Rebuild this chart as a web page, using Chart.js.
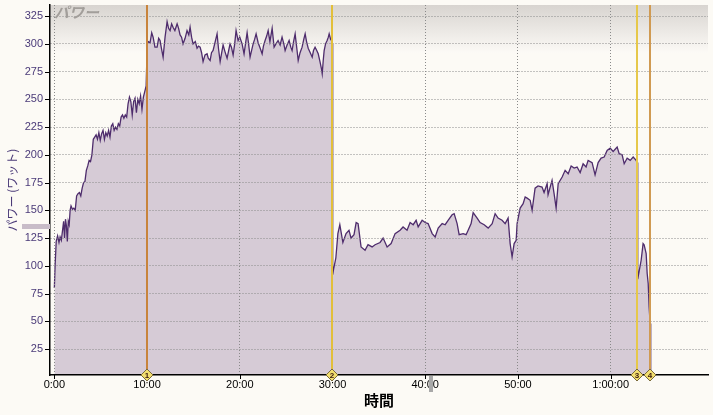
<!DOCTYPE html>
<html><head><meta charset="utf-8">
<script src="https://cdn.jsdelivr.net/npm/chart.js@4/dist/chart.umd.min.js"></script>
<style>html,body{margin:0;padding:0;background:#fcfaf5;}canvas{display:block;}</style>
</head><body>
<canvas id="c" width="713" height="415"></canvas>
<script>
// time in minutes
const timeMin = [
0.00,0.08,0.20,0.35,0.50,0.62,0.75,0.90,1.00,1.10,1.20,1.30,1.40,1.50,1.60,1.70,1.80,1.95,2.10,2.25,
2.40,2.55,2.70,2.85,3.00,3.15,3.30,3.45,3.60,3.75,3.90,4.05,4.20,4.35,4.50,4.65,4.80,4.95,5.10,5.25,
5.40,5.55,5.70,5.85,6.00,6.15,6.30,6.45,6.60,6.75,6.90,7.05,7.20,7.35,7.50,7.65,7.80,7.95,8.10,8.25,
8.40,8.55,8.70,8.85,9.00,9.15,9.30,9.45,9.60,9.75,9.90,9.95,
10.02,10.15,10.32,10.50,10.65,10.85,11.08,11.25,11.40,11.55,11.73,11.94,12.16,12.32,12.48,12.65,12.80,13.00,
13.24,13.40,13.56,13.72,13.88,14.10,14.31,14.50,14.64,14.80,14.96,15.20,15.39,15.55,15.72,15.88,16.04,16.25,
16.47,16.60,16.80,16.95,17.12,17.35,17.55,17.70,17.88,18.05,18.20,18.40,18.63,18.80,18.95,19.10,19.28,19.45,
19.60,19.82,20.00,20.25,20.46,20.65,20.79,20.95,21.11,21.30,21.44,21.60,21.76,21.98,22.20,22.41,22.55,22.73,
22.90,23.06,23.25,23.49,23.70,23.90,24.13,24.35,24.56,24.75,24.89,25.10,25.32,25.50,25.64,25.80,25.97,26.15,
26.30,26.50,26.72,26.90,27.05,27.20,27.38,27.60,27.81,27.95,28.12,28.30,28.46,28.65,28.80,28.89,29.00,29.10,
29.25,29.42,29.55,29.64,29.80,29.90,29.95,
30.02,30.14,30.36,30.58,30.79,31.12,31.46,31.78,32.00,32.32,32.55,32.76,33.08,33.51,33.83,34.27,34.59,35.13,
35.46,35.89,36.32,36.75,37.29,37.61,38.04,38.37,38.70,39.02,39.24,39.67,39.99,40.31,40.75,41.07,41.40,41.83,
42.15,42.47,42.90,43.12,43.44,43.66,44.09,44.41,44.63,44.95,45.17,45.60,45.92,46.36,46.79,47.22,47.54,47.86,
48.29,48.62,48.94,49.16,49.37,49.59,49.81,49.91,50.24,50.56,50.78,50.99,51.32,51.53,51.85,52.17,52.60,52.82,
53.15,53.25,53.68,53.90,54.12,54.34,54.77,55.09,55.42,55.74,56.06,56.38,56.71,57.03,57.35,57.57,58.00,58.32,
58.65,58.97,59.30,59.62,59.95,60.27,60.70,60.92,61.24,61.46,61.78,62.11,62.43,62.75,62.86,
62.92,63.07,63.29,63.50,63.61,63.83,63.94,64.05,64.15,64.26,64.32
];
// power in watts
const powerW = [
80,100,122,127,121,126,123,133,140,125,142,136,122,140,137,150,154,151,152,150,
163,165,166,163,170,175,176,186,190,195,194,200,214,216,218,214,220,213,219,222,
214,220,217,222,216,226,228,222,225,223,228,226,234,236,233,236,234,246,252,248,
236,248,251,238,250,246,253,241,252,257,262,262,
300,302,301,310,306,297,297,305,303,296,288,306,320,314,312,318,315,312,
318,314,308,306,300,305,312,308,315,306,300,302,296,298,297,292,284,290,
291,287,285,292,294,302,309,296,284,292,299,293,287,294,300,297,290,300,
312,303,306,300,291,302,310,300,288,295,300,304,309,301,296,291,298,303,
307,312,302,314,297,300,303,299,306,300,294,299,303,297,294,302,309,296,
285,292,297,304,309,302,296,292,288,294,297,294,291,284,278,273,285,294,
300,303,306,309,304,303,300,
92,98,107,129,137,121,129,132,125,128,139,138,117,114,119,117,119,121,
125,117,120,129,132,135,132,139,137,141,135,141,139,138,129,126,134,138,
137,141,146,147,138,128,129,128,132,138,148,143,139,137,134,138,147,143,
141,138,143,120,108,120,123,138,152,156,162,161,159,150,170,172,171,166,
174,164,177,165,152,174,180,186,183,190,188,189,184,192,189,195,193,182,
193,197,198,204,206,203,207,201,200,192,197,195,198,195,193,
88,95,105,120,119,111,93,84,63,48,5
];
const timeTicks = [0,10,20,30,40,50,60];
const timeTickLabels = ['0:00','10:00','20:00','30:00','40:00','50:00','1:00:00'];
const powerTicks = [25,50,75,100,125,150,175,200,225,250,275,300,325];
const lapTimes = [10.0, 29.92, 62.86, 64.26];
const lapLabels = ['1','2','3','4'];
const lapColors = ['#c8843c','#e2bf3a','#e6c84a','#d09a52'];

const decor = {
  id: 'decor',
  beforeDraw(chart) {
    const {ctx, chartArea: a, width, height} = chart;
    ctx.save();
    ctx.fillStyle = '#fcfaf5';
    ctx.fillRect(0, 0, width, height);
    const g = ctx.createLinearGradient(0, a.top, 0, a.top + 48);
    g.addColorStop(0, '#d8d4d0');
    g.addColorStop(1, '#fcfaf6');
    ctx.fillStyle = g;
    ctx.fillRect(a.left, a.top, a.right - a.left, 48);
    ctx.restore();
  },
  afterDraw(chart) {
    const {ctx, chartArea: a} = chart;
    const xs = chart.scales.x, ys = chart.scales.y;
    ctx.save();
    // tick marks
    ctx.strokeStyle = '#000';
    ctx.lineWidth = 1;
    ctx.beginPath();
    powerTicks.forEach(v => {
      const y = Math.round(ys.getPixelForValue(v)) + 0.5;
      ctx.moveTo(a.left - 5, y); ctx.lineTo(a.left, y);
    });
    timeTicks.forEach(v => {
      const x = Math.round(xs.getPixelForValue(v)) + 0.5;
      ctx.moveTo(x, a.bottom); ctx.lineTo(x, a.bottom + 4);
    });
    ctx.stroke();
    // chart title in plot
    ctx.fillStyle = '#a29e9a';
    ctx.font = 'italic bold 15px "Noto Sans CJK JP"';
    ctx.textBaseline = 'middle';
    ctx.textAlign = 'left';
    ctx.fillText('パワー', a.left + 4, a.top + 7);
    // series swatch next to y title
    ctx.fillStyle = '#c8bcc8';
    ctx.fillRect(22, 224, a.left - 22, 5);
    // small grey marker below axis
    const gx = xs.getPixelForValue(40.4);
    ctx.fillStyle = '#a8a8a8';
    ctx.fillRect(Math.round(gx), a.bottom + 1, 4, 16);
    // lap lines
    lapTimes.forEach((t, i) => {
      const x = Math.round(xs.getPixelForValue(t));
      ctx.strokeStyle = lapColors[i];
      ctx.lineWidth = 2;
      ctx.beginPath();
      ctx.moveTo(x, a.top); ctx.lineTo(x, a.bottom);
      ctx.stroke();
    });
    lapTimes.forEach((t, i) => {
      const x = Math.round(xs.getPixelForValue(t));
      const y = a.bottom;
      ctx.beginPath();
      ctx.moveTo(x, y - 6); ctx.lineTo(x + 6, y); ctx.lineTo(x, y + 6); ctx.lineTo(x - 6, y); ctx.closePath();
      ctx.fillStyle = '#f2de6e';
      ctx.fill();
      ctx.strokeStyle = '#7a6a3a';
      ctx.lineWidth = 1;
      ctx.stroke();
      ctx.fillStyle = '#3a1a10';
      ctx.font = 'bold 8px "Liberation Sans"';
      ctx.textAlign = 'center';
      ctx.textBaseline = 'middle';
      ctx.fillText(lapLabels[i], x, y + 0.5);
    });
    ctx.restore();
  }
};

new Chart(document.getElementById('c'), {
  type: 'line',
  data: {
    datasets: [{
      data: timeMin.map((t, i) => ({x: t, y: powerW[i]})),
      borderColor: '#4e2c6c',
      borderWidth: 1.3,
      backgroundColor: '#d6cbd6',
      fill: 'origin',
      pointRadius: 0,
      tension: 0
    }]
  },
  options: {
    responsive: false,
    devicePixelRatio: 1,
    animation: false,
    events: [],
    layout: {padding: {top: 5, right: 5, left: 0, bottom: 0}},
    plugins: {legend: {display: false}, tooltip: {enabled: false}},
    scales: {
      x: {
        type: 'linear', min: -0.47, max: 70.5,
        afterBuildTicks: s => { s.ticks = timeTicks.map(v => ({value: v})); },
        afterFit: s => { s.height = 40; s.paddingLeft = 0; s.paddingRight = 0; },
        ticks: {
          padding: 3, color: '#000', maxRotation: 0, autoSkip: false,
          font: {family: 'Liberation Sans', size: 11},
          callback: (v, i) => timeTickLabels[i]
        },
        grid: {color: '#8a8a8a', lineWidth: 1, drawTicks: false, z: 1},
        border: {display: true, color: '#000', width: 1.5, dash: [1, 2], z: 2},
        title: {display: true, text: '時間', color: '#000',
          font: {family: 'Noto Sans CJK JP', size: 15, weight: 'bold'},
          padding: {top: 0, bottom: 6}}
      },
      y: {
        min: 1.6, max: 335,
        afterBuildTicks: s => { s.ticks = powerTicks.map(v => ({value: v})); },
        afterFit: s => { s.width = 50; s.paddingTop = 0; s.paddingBottom = 0; },
        ticks: {
          padding: 7, color: '#4a3a78', autoSkip: false,
          font: {family: 'Liberation Sans', size: 11},
          callback: (v, i) => String(powerTicks[i])
        },
        grid: {color: '#8a8a8a', lineWidth: 1, drawTicks: false, z: 1},
        border: {display: true, color: '#000', width: 1.5, dash: [1, 2], z: 2},
        title: {display: true, text: 'パワー (ワット)', color: '#4a3a78',
          font: {family: 'Noto Sans CJK JP', size: 12},
          padding: {top: 5, bottom: 0}}
      }
    }
  },
  plugins: [decor]
});
</script>
</body></html>
